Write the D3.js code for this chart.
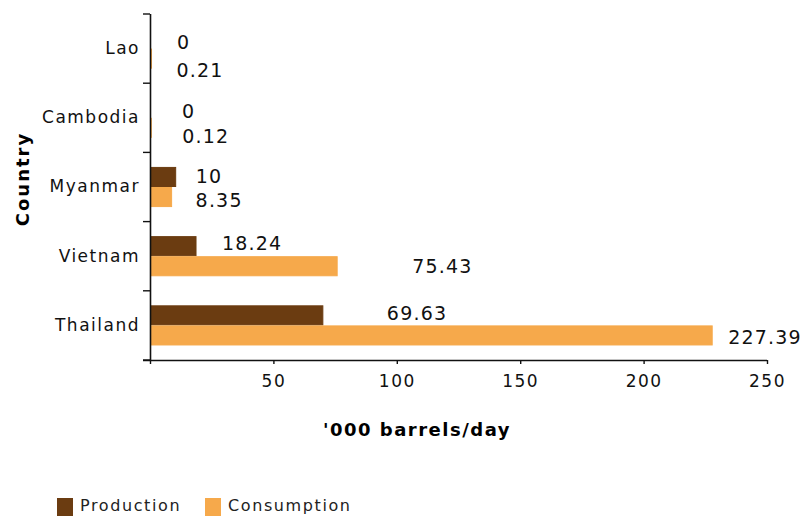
<!DOCTYPE html>
<html>
<head>
<meta charset="utf-8">
<script src="https://cdn.jsdelivr.net/npm/d3@7/dist/d3.min.js"></script>
<style>
  html, body { margin: 0; padding: 0; background: #fff; }
  svg { display: block; font-family: "DejaVu Sans", Verdana, sans-serif; }
</style>
</head>
<body>
<svg id="chart" width="804" height="516"></svg>
<script>
// Oil production and consumption, '000 barrels/day
const countries = ["Lao", "Cambodia", "Myanmar", "Vietnam", "Thailand"];
const seriesNames = ["Production", "Consumption"];
const production = [0, 0, 10, 18.24, 69.63];
const consumption = [0.21, 0.12, 8.35, 75.43, 227.39];
const xTicks = [0, 50, 100, 150, 200, 250];

const colors = { Production: "#6B3C11", Consumption: "#F6A94B" };

// label offsets (px) from the end of each bar, per country
const labelShift = {
  Production:  [[27, 4], [32, 3], [21, -1], [27, -3], [65, -2]],
  Consumption: [[26, 12], [32, 8], [25, 3], [76, 0], [17, 2]]
};

const svg = d3.select("#chart");
const plotLeft = 150, plotRight = 767, plotTop = 14, plotBottom = 360;

const x = d3.scaleLinear().domain([0, 250]).range([plotLeft, plotRight]);
const y0 = d3.scaleBand().domain(countries).range([plotTop, plotBottom])
  .paddingInner(0.42).paddingOuter(0.21);
const y1 = d3.scaleBand().domain(seriesNames).range([0, y0.bandwidth()]);

const rows = countries.map((c, i) => ({
  country: c,
  values: [
    { series: "Production", value: production[i], i },
    { series: "Consumption", value: consumption[i], i }
  ]
}));

// bars (a thin outline in the fill colour, as in the original styling)
const groups = svg.append("g").selectAll("g").data(rows).join("g")
  .attr("transform", d => `translate(0,${y0(d.country)})`);

groups.selectAll("rect").data(d => d.values.filter(v => v.value > 0)).join("rect")
  .attr("x", x(0) + 1)
  .attr("y", d => y1(d.series) + 0.5)
  .attr("width", d => x(d.value) - x(0))
  .attr("height", y1.bandwidth() - 1)
  .attr("fill", d => colors[d.series])
  .attr("stroke", d => colors[d.series])
  .attr("stroke-width", 1);

// value labels
groups.selectAll("text").data(d => d.values).join("text")
  .attr("x", d => x(d.value) + labelShift[d.series][d.i][0])
  .attr("y", d => y1(d.series) + y1.bandwidth() / 2 + labelShift[d.series][d.i][1])
  .attr("dy", "0.36em")
  .attr("font-size", 19)
  .attr("letter-spacing", 1.2)
  .attr("fill", "#111")
  .text(d => d.value);

// x axis
const xAxis = svg.append("g")
  .attr("transform", `translate(0,${plotBottom})`)
  .call(d3.axisBottom(x).tickValues(xTicks).tickSize(4).tickPadding(11)
    .tickFormat(d => d === 0 ? "" : d));
xAxis.select(".domain").attr("d", `M${plotLeft - 7},0.5H${plotRight}`).attr("stroke", "#111").attr("stroke-width", 1.6);
xAxis.selectAll(".tick line").attr("stroke", "#111").attr("stroke-width", 1.4);
xAxis.selectAll(".tick text")
  .attr("font-size", 17).attr("letter-spacing", 1.5).attr("fill", "#111")
  .attr("font-family", "DejaVu Sans, sans-serif");

// y axis: category labels and boundary ticks
const yAxis = svg.append("g")
  .attr("transform", `translate(${plotLeft},0)`)
  .call(d3.axisLeft(y0).tickSize(0).tickPadding(10));
yAxis.select(".domain").attr("d", `M0.5,${plotTop}V${plotBottom}`).attr("stroke", "#111").attr("stroke-width", 1.6);
yAxis.selectAll(".tick text")
  .attr("font-size", 17).attr("letter-spacing", 1.5).attr("fill", "#111")
  .attr("font-family", "DejaVu Sans, sans-serif");

const boundaries = countries.map(c => y0(c) - y0.step() * y0.paddingInner() / 2);
boundaries.push(plotBottom);
yAxis.selectAll("line.bound").data(boundaries).join("line")
  .attr("class", "bound")
  .attr("x1", -7).attr("x2", 0)
  .attr("y1", d => d).attr("y2", d => d)
  .attr("stroke", "#111").attr("stroke-width", 1.4);

// axis titles
svg.append("text")
  .attr("x", 417).attr("y", 436)
  .attr("text-anchor", "middle")
  .attr("font-size", 18).attr("font-weight", "bold").attr("letter-spacing", 1.5)
  .attr("fill", "#000")
  .text("'000 barrels/day");

svg.append("text")
  .attr("transform", "translate(29,179) rotate(-90)")
  .attr("text-anchor", "middle")
  .attr("font-size", 18).attr("font-weight", "bold").attr("letter-spacing", 2)
  .attr("fill", "#000")
  .text("Country");

// legend
const legend = svg.append("g");
const legendX = [57, 205];
seriesNames.forEach((s, i) => {
  legend.append("rect")
    .attr("x", legendX[i]).attr("y", 498)
    .attr("width", 16).attr("height", 18)
    .attr("fill", colors[s]);
  legend.append("text")
    .attr("x", legendX[i] + 23).attr("y", 511)
    .attr("font-size", 16).attr("letter-spacing", 1.6)
    .attr("fill", "#222")
    .text(s);
});
</script>
</body>
</html>
